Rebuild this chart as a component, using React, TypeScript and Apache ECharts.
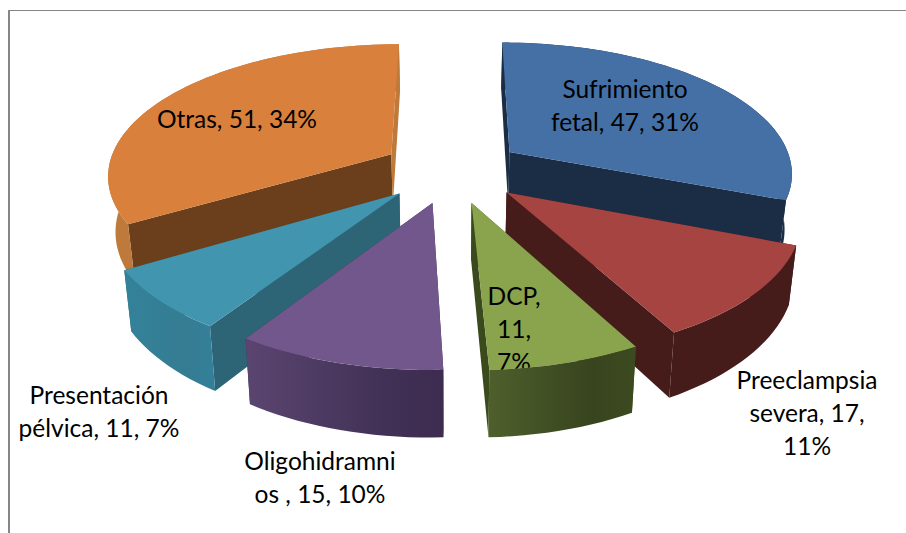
import React, { useEffect, useRef } from "react";
import * as echarts from "echarts";

const categories = ["Sufrimiento fetal", "Preeclampsia severa", "DCP", "Oligohidramnios", "Presentación pélvica", "Otras"];
const values = [47, 17, 11, 15, 11, 51];
const percents = [31, 11, 7, 10, 7, 34];
const labelTexts = [
  "Sufrimiento\nfetal, 47, 31%",
  "Preeclampsia\nsevera, 17,\n11%",
  "DCP,\n11,\n7%",
  "Oligohidramni\nos , 15, 10%",
  "Presentación\npélvica, 11, 7%",
  "Otras, 51, 34%",
];
const labelCenters = [[625, 105], [807, 412], [514, 328], [320, 477], [99, 411], [237, 118]];

const topColors = ["#4470a6", "#a64442", "#89a44d", "#72578c", "#4195ae", "#d8803c"];
const startWallColors = ["#1a2d45", "#451c1a", "#3a4a1c", "#3d2c50", "#2d6577", "#6b3f1c"];
const endWallColors = ["#1a2d45", "#451c1a", "#3a4a1c", "#3d2c50", "#2d6577", "#bd7a3a"];
const outerWallStops = [
  ["#1a2d45", "#1a2d45", "#1a2d45"],
  ["#451c1a", "#451c1a", "#451c1a"],
  ["#4e5f2c", "#38441e", "#3c4a20"],
  ["#5a4570", "#423156", "#3d2c50"],
  ["#33829a", "#357c92", "#33809a"],
  ["#bd7a3a", "#bd7a3a", "#bd7a3a"],
];

// Projection of the exploded 3D pie
const CX = 452, CY = 170.2, RX = 284, RY = 131, KX = 0.145, KY = 0.15, DEPTH = 55, SHRINK = 0.022, EXPLODE = 0.25;

const project = (x: number, y: number, z: number): number[] => {
  const wx = (1 - KX * y) * (1 + SHRINK * z);
  const wy = 1 - KY * y;
  return [CX + (RX * x) / wx, CY + (RY * y + DEPTH * z) / wy];
};

const total = values.reduce((a, b) => a + b, 0);
const angles = values.map((_, i) => {
  const before = values.slice(0, i).reduce((a, b) => a + b, 0);
  return [(before / total) * 2 * Math.PI, ((before + values[i]) / total) * 2 * Math.PI];
});
const depthOf = (i: number) => -Math.cos((angles[i][0] + angles[i][1]) / 2);
const order = values.map((_, i) => i).sort((a, b) => depthOf(a) - depthOf(b));

const renderSlice = (params: any) => {
  const i = params.dataIndex;
  const [a0, a1] = angles[i];
  const mid = (a0 + a1) / 2;
  const ox = EXPLODE * Math.sin(mid);
  const oy = -EXPLODE * Math.cos(mid);
  const steps = Math.max(8, Math.round(((a1 - a0) / Math.PI) * 90));
  const rim = (z: number) => {
    const pts: number[][] = [];
    for (let s = 0; s <= steps; s++) {
      const a = a0 + ((a1 - a0) * s) / steps;
      pts.push(project(ox + Math.sin(a), oy - Math.cos(a), z));
    }
    return pts;
  };
  const topRim = rim(0);
  const botRim = rim(1);
  const apexT = project(ox, oy, 0);
  const apexB = project(ox, oy, 1);
  const base = order.indexOf(i) * 10 + 1;
  const front = i === 2; // this slice's rim wall is painted over its own label
  return {
    type: "group",
    children: [
      {
        type: "polygon", z2: base,
        shape: { points: [apexT, topRim[0], botRim[0], apexB] },
        style: { fill: startWallColors[i] },
      },
      {
        type: "polygon", z2: base + 1,
        shape: { points: [apexT, topRim[steps], botRim[steps], apexB] },
        style: { fill: endWallColors[i] },
      },
      {
        type: "polygon", z2: front ? 300 : base + 2,
        shape: { points: [...topRim, ...botRim.slice().reverse()] },
        style: {
          fill: new echarts.graphic.LinearGradient(0, 0, 1, 0, [
            { offset: 0, color: outerWallStops[i][0] },
            { offset: 0.7, color: outerWallStops[i][1] },
            { offset: 1, color: outerWallStops[i][2] },
          ]),
        },
      },
      {
        type: "polygon", z2: base + 3,
        shape: { points: [apexT, ...topRim] },
        style: { fill: topColors[i] },
      },
      {
        type: "text", z2: 200,
        style: {
          text: labelTexts[i],
          x: labelCenters[i][0],
          y: labelCenters[i][1],
          fill: "#000",
          align: "center",
          verticalAlign: "middle",
          fontFamily: "Lato",
          fontSize: 24.5,
          lineHeight: 33,
        },
      },
    ],
  };
};

export default function App() {
  const ref = useRef<HTMLDivElement>(null);
  useEffect(() => {
    const chart = echarts.init(ref.current!, undefined, { renderer: "svg" });
    chart.setOption({
      animation: false,
      backgroundColor: "#fff",
      graphic: [
        { type: "line", shape: { x1: 9, y1: 10, x2: 9, y2: 533 }, style: { stroke: "#868686", lineWidth: 2 } },
        { type: "line", shape: { x1: 8, y1: 10.5, x2: 906, y2: 10.5 }, style: { stroke: "#868686", lineWidth: 1 } },
      ],
      series: [
        {
          type: "custom",
          coordinateSystem: "none",
          renderItem: renderSlice,
          data: values.map((v, i) => ({ name: categories[i], value: [v, percents[i]] })),
        },
      ],
    });
    return () => chart.dispose();
  }, []);
  return <div ref={ref} style={{ position: "fixed", left: 0, top: 0, width: 906, height: 533 }} />;
}
